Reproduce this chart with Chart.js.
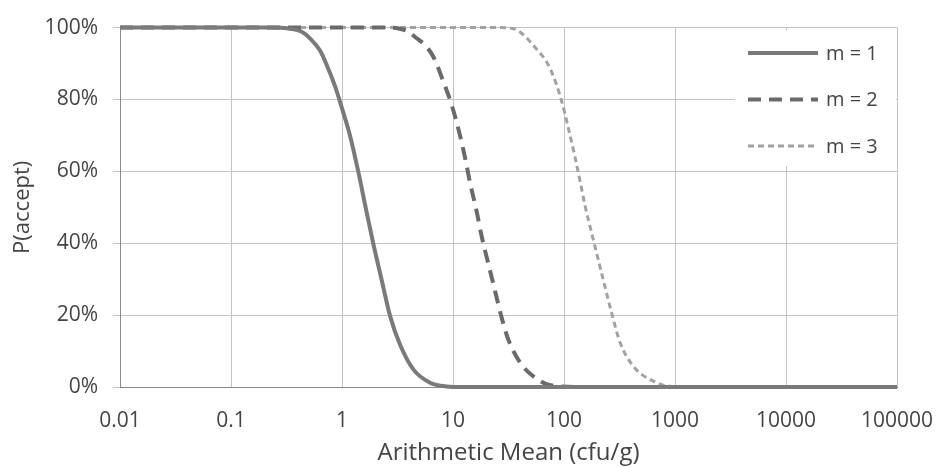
<!DOCTYPE html>
<html>
<head>
<meta charset="utf-8">
<script src="https://cdn.jsdelivr.net/npm/chart.js@4"></script>
<style>
  body { margin: 0; background: #fff; }
  #wrap { width: 936px; height: 468px; position: relative; }
</style>
</head>
<body>
<div id="wrap"><canvas id="oc"></canvas></div>
<script>
// tick labels of the log axis
const xTicks = [0.01, 0.1, 1, 10, 100, 1000, 10000, 100000];

// m = 1
const m1Mean = [0.01, 0.1, 0.2, 0.3, 0.34, 0.43, 0.515, 0.634, 0.728, 0.865, 0.994, 1.18, 1.4, 1.67, 1.91, 2.28, 2.71, 3.33, 4.39, 6.21, 8.77, 12, 100000];
const m1Accept = [100, 100, 100, 99.9, 99.7, 98.9, 97, 93.6, 89.6, 83.7, 77.8, 70, 60, 48.5, 40, 29.7, 19.8, 11.8, 4.9, 1.2, 0.15, 0, 0];

// m = 2
const m2Mean = [0.01, 1, 2.5, 3.3, 4, 4.55, 5.5, 6.65, 8.18, 9.73, 11.56, 13.1, 14.2, 16.3, 18.1, 20.8, 23.9, 26.9, 31.5, 41.6, 60.8, 69.8, 90, 130, 100000];
const m2Accept = [100, 100, 100, 99.7, 98.8, 97.4, 95.3, 91.9, 85, 78.5, 70, 62.5, 57, 49, 42, 34.3, 26.8, 20.3, 13.2, 6.2, 1.7, 0.8, 0.2, 0, 0];

// m = 3
const m3Mean = [0.01, 10, 25, 35, 42, 52.8, 74.8, 95.3, 109.3, 125.6, 139.3, 154.6, 177.6, 203.9, 234, 269, 320, 421, 684, 900, 1300, 100000];
const m3Accept = [100, 100, 100, 99.7, 98.3, 95.1, 88.7, 79.5, 72.1, 64, 57.4, 50.5, 42.8, 35.3, 27.9, 20.5, 12.4, 5.8, 1.2, 0.2, 0, 0];

const seriesLabels = ['m = 1', 'm = 2', 'm = 3'];

function toPoints(xs, ys) {
  return xs.map((x, i) => ({ x: x, y: ys[i] }));
}

Chart.defaults.font.family = "'Open Sans', sans-serif";
Chart.defaults.color = '#444';

// legend drawn inside the plot, on a white box over the grid
const insideLegend = {
  id: 'insideLegend',
  afterDatasetsDraw(chart) {
    const ctx = chart.ctx;
    const area = chart.chartArea;
    const boxL = 735, boxT = area.top + 3, boxR = area.right - 1, boxB = 166;
    ctx.save();
    ctx.fillStyle = '#fff';
    ctx.fillRect(boxL, boxT, boxR - boxL, boxB - boxT);
    ctx.font = "20px 'Open Sans', sans-serif";
    ctx.textBaseline = 'middle';
    ctx.fillStyle = '#444';
    chart.data.datasets.forEach((ds, i) => {
      const y = 53 + i * 46.5;
      ctx.beginPath();
      ctx.strokeStyle = ds.borderColor;
      ctx.lineWidth = ds.borderWidth;
      ctx.setLineDash(ds.borderDash || []);
      ctx.moveTo(748, y);
      ctx.lineTo(818, y);
      ctx.stroke();
      ctx.setLineDash([]);
      ctx.fillText(ds.label, 826, y + 1);
    });
    ctx.restore();
  }
};

const ctx = document.getElementById('oc');
const chart = new Chart(ctx, {
  type: 'line',
  data: {
    datasets: [
      {
        label: seriesLabels[0],
        data: toPoints(m1Mean, m1Accept),
        borderColor: '#7a7a7a',
        borderWidth: 4,
        borderDash: [],
        pointRadius: 0,
        cubicInterpolationMode: 'monotone',
        clip: false
      },
      {
        label: seriesLabels[1],
        data: toPoints(m2Mean, m2Accept),
        borderColor: '#6a6a6a',
        borderWidth: 4,
        borderDash: [13, 8],
        pointRadius: 0,
        cubicInterpolationMode: 'monotone',
        clip: false
      },
      {
        label: seriesLabels[2],
        data: toPoints(m3Mean, m3Accept),
        borderColor: '#a2a2a2',
        borderWidth: 3,
        borderDash: [6, 4],
        pointRadius: 0,
        cubicInterpolationMode: 'monotone',
        clip: false
      }
    ]
  },
  options: {
    responsive: true,
    maintainAspectRatio: false,
    animation: false,
    layout: { padding: { top: 24, right: 39, left: 0, bottom: 0 } },
    plugins: {
      legend: { display: false },
      tooltip: { enabled: false }
    },
    scales: {
      x: {
        type: 'logarithmic',
        min: 0.01,
        max: 100000,
        afterBuildTicks: (scale) => {
          scale.ticks = xTicks.map(v => ({ value: v }));
        },
        afterFit: (scale) => {
          scale.height = 81;
          scale.paddingLeft = 0;
          scale.paddingRight = 0;
        },
        grid: { color: '#c4c4c4', lineWidth: 1, drawTicks: false },
        border: { color: '#8a8a8a', width: 1 },
        ticks: {
          padding: 21,
          maxRotation: 0,
          autoSkip: false,
          font: { size: 21 },
          callback: (v) => String(v)
        },
        title: {
          display: true,
          text: 'Arithmetic Mean (cfu/g)',
          font: { size: 24 },
          padding: { top: 7, bottom: 0 }
        }
      },
      y: {
        min: 0,
        max: 100,
        afterFit: (scale) => { scale.width = 120; },
        grid: { color: '#c4c4c4', lineWidth: 1, tickLength: 7 },
        border: { color: '#8a8a8a', width: 1 },
        ticks: {
          stepSize: 20,
          padding: 15,
          font: { size: 21 },
          callback: (v) => v + '%'
        },
        title: {
          display: true,
          text: 'P(accept)',
          font: { size: 22 },
          padding: { top: 10, bottom: 0 }
        }
      }
    }
  },
  plugins: [insideLegend]
});
</script>
</body>
</html>
